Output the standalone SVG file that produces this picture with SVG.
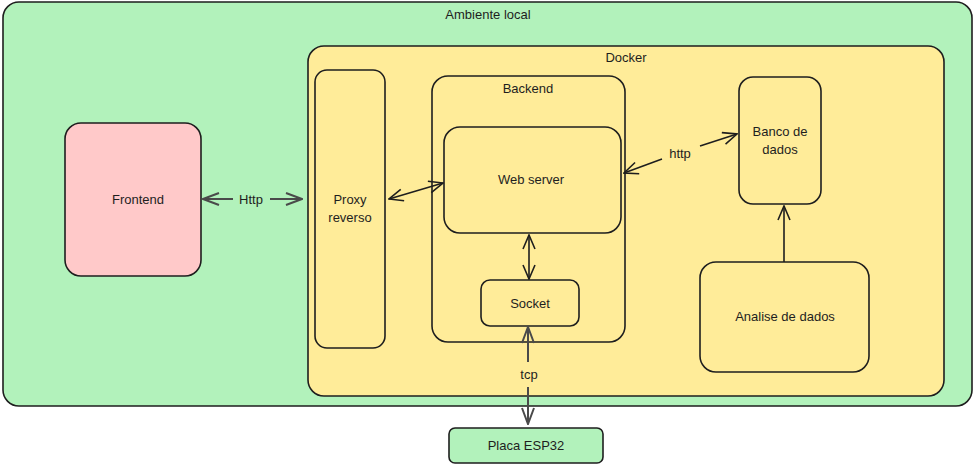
<svg xmlns="http://www.w3.org/2000/svg" width="975" height="466" viewBox="0 0 975 466">
<style>
.box{stroke:#1e1e1e;stroke-width:1.6;}
.lbl{font-family:"Liberation Sans","DejaVu Sans",sans-serif;font-size:13px;fill:#1e1e1e;text-anchor:middle;dominant-baseline:central;}
.con{fill:none;stroke:#1e1e1e;stroke-width:1.6;}
.grey{stroke:#4a4a4a;stroke-width:2;}
</style>
<defs>
<marker id="ah" viewBox="0 0 16 14" refX="15" refY="7" markerWidth="16" markerHeight="14" markerUnits="userSpaceOnUse" orient="auto-start-reverse">
<path d="M1,1 L15,7 L1,13" fill="none" stroke="#1e1e1e" stroke-width="1.6"/>
</marker>
<marker id="ahg" viewBox="0 0 18 14" refX="17" refY="7" markerWidth="18" markerHeight="14" markerUnits="userSpaceOnUse" orient="auto-start-reverse">
<path d="M1,1 L17,7 L1,13" fill="none" stroke="#4a4a4a" stroke-width="2"/>
</marker>
</defs>
<g id="ambiente">
<rect class="box" x="3" y="2" width="969" height="404" rx="16" fill="#b2f2bb"/>
<text class="lbl" x="488" y="14">Ambiente local</text>
</g>
<g id="docker">
<rect class="box" x="308" y="46" width="636" height="350" rx="16" fill="#ffec99"/>
<text class="lbl" x="626" y="57">Docker</text>
</g>
<g id="proxy">
<rect class="box" x="315" y="70" width="70" height="278" rx="12" fill="#ffec99"/>
<text class="lbl" x="350" y="199">Proxy</text>
<text class="lbl" x="350" y="217">reverso</text>
</g>
<g id="backend">
<rect class="box" x="432" y="76" width="193" height="266" rx="16" fill="#ffec99"/>
<text class="lbl" x="528" y="88">Backend</text>
</g>
<g id="webserver">
<rect class="box" x="444" y="127" width="177" height="106" rx="16" fill="#ffec99"/>
<text class="lbl" x="531" y="179">Web server</text>
</g>
<g id="socket">
<rect class="box" x="481" y="280" width="98" height="46" rx="9" fill="#ffec99"/>
<text class="lbl" x="530" y="303">Socket</text>
</g>
<g id="banco">
<rect class="box" x="739" y="77" width="82" height="127" rx="14" fill="#ffec99"/>
<text class="lbl" x="780" y="131">Banco de</text>
<text class="lbl" x="780" y="149">dados</text>
</g>
<g id="analise">
<rect class="box" x="700" y="262" width="169" height="110" rx="16" fill="#ffec99"/>
<text class="lbl" x="785" y="316">Analise de dados</text>
</g>
<g id="frontend">
<rect class="box" x="65" y="123" width="136" height="153" rx="16" fill="#ffc9c9"/>
<text class="lbl" x="138" y="199">Frontend</text>
</g>
<g id="esp32">
<rect class="box" x="449" y="428" width="154" height="35" rx="6" fill="#b2f2bb"/>
<text class="lbl" x="526" y="445">Placa ESP32</text>
</g>
<g id="connectors">
<path class="con grey" d="M203,199 L233,199" marker-start="url(#ahg)"/>
<path class="con grey" d="M270,199 L302,199" marker-end="url(#ahg)"/>
<text class="lbl" x="251" y="199">Http</text>
<path class="con" d="M389,199 L443,183" marker-start="url(#ah)" marker-end="url(#ah)"/>
<path class="con" d="M624,173 L662,159" marker-start="url(#ah)"/>
<path class="con" d="M700,146 L737,134" marker-end="url(#ah)"/>
<text class="lbl" x="680" y="153">http</text>
<path class="con" d="M529,235 L529,279" marker-start="url(#ah)" marker-end="url(#ah)"/>
<path class="con grey" d="M528,327 L528,362" marker-start="url(#ahg)"/>
<path class="con grey" d="M528,387 L528,424" marker-end="url(#ahg)"/>
<text class="lbl" x="529" y="374">tcp</text>
<path class="con" d="M784,262 L784,206" marker-end="url(#ah)"/>
</g>
</svg>
